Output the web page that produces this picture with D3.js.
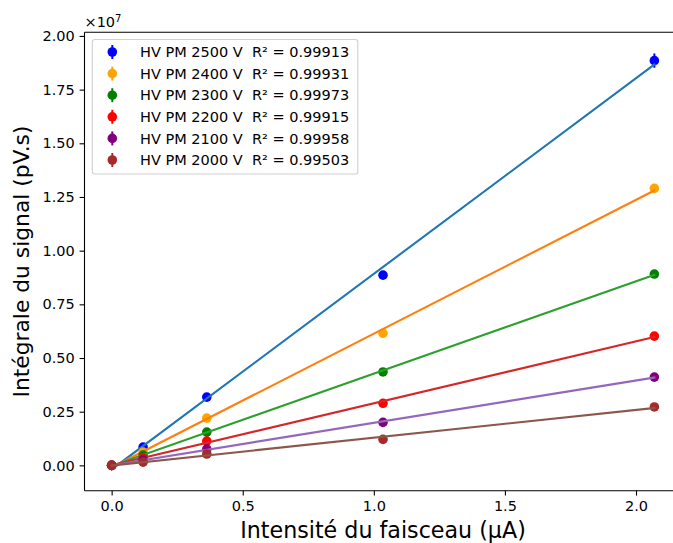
<!DOCTYPE html>
<html>
<head>
<meta charset="utf-8">
<script src="https://cdn.jsdelivr.net/npm/d3@7"></script>
<style>
  html, body { margin: 0; padding: 0; background: #fff; }
  svg { display: block; font-family: "DejaVu Sans", sans-serif; }
</style>
</head>
<body>
<svg id="chart" width="673" height="543"></svg>
<script>
// ---- data (y in units of 1e7 pV.s) ----
const currents = [0, 0.12, 0.363, 1.035, 2.07];
const labels = ["HV PM 2500 V", "HV PM 2400 V", "HV PM 2300 V", "HV PM 2200 V", "HV PM 2100 V", "HV PM 2000 V"];
const r2 = ["0.99913", "0.99931", "0.99973", "0.99915", "0.99958", "0.99503"];
const v2500 = [0, 0.085, 0.318, 0.886, 1.885];
const v2400 = [0, 0.062, 0.220, 0.615, 1.290];
const v2300 = [0, 0.048, 0.155, 0.435, 0.891];
const v2200 = [0, 0.034, 0.113, 0.289, 0.602];
const v2100 = [0, 0.025, 0.076, 0.200, 0.411];
const v2000 = [0, 0.015, 0.053, 0.121, 0.272];
const e2500 = [0, 0.004, 0.008, 0.012, 0.033];
const e2400 = [0, 0.003, 0.006, 0.010, 0.012];
const e2300 = [0, 0.002, 0.005, 0.008, 0.010];
const e2200 = [0, 0.002, 0.004, 0.006, 0.008];
const e2100 = [0, 0.001, 0.003, 0.005, 0.006];
const e2000 = [0, 0.001, 0.002, 0.004, 0.005];
const xTicks = [0, 0.5, 1.0, 1.5, 2.0];
const yTicks = [0, 0.25, 0.5, 0.75, 1.0, 1.25, 1.5, 1.75, 2.0];
const markerColors = ["#0000ff", "#ffa500", "#008000", "#ff0000", "#800080", "#a52a2a"];
const lineColors = ["#1f77b4", "#ff7f0e", "#2ca02c", "#d62728", "#9467bd", "#8c564b"];

const values = [v2500, v2400, v2300, v2200, v2100, v2000];
const errors = [e2500, e2400, e2300, e2200, e2100, e2000];

// ---- layout ----
const svg = d3.select("#chart");
const L = 84.5, R = 681.5, T = 32.3, B = 490.7;
const x = d3.scaleLinear().domain([-0.1035, 2.1735]).range([L, R]);
const y = d3.scaleLinear().domain([-0.118, 2.017]).range([B, T]);

const clipId = "plotclip";
svg.append("defs").append("clipPath").attr("id", clipId)
  .append("rect").attr("x", L).attr("y", T).attr("width", R - L).attr("height", B - T);

// linear least-squares fit
function fit(xs, ys) {
  const n = xs.length;
  const mx = d3.mean(xs), my = d3.mean(ys);
  let sxy = 0, sxx = 0;
  for (let i = 0; i < n; i++) { sxy += (xs[i] - mx) * (ys[i] - my); sxx += (xs[i] - mx) ** 2; }
  const a = sxy / sxx;
  return { a, b: my - a * mx };
}

const plot = svg.append("g").attr("clip-path", `url(#${clipId})`);
const xMin = d3.min(currents), xMax = d3.max(currents);

values.forEach((vals, s) => {
  const g = plot.append("g");
  g.selectAll("line.err").data(vals).enter().append("line")
    .attr("x1", (d, i) => x(currents[i])).attr("x2", (d, i) => x(currents[i]))
    .attr("y1", (d, i) => y(d - errors[s][i])).attr("y2", (d, i) => y(d + errors[s][i]))
    .attr("stroke", markerColors[s]).attr("stroke-width", 2);
  g.selectAll("circle").data(vals).enter().append("circle")
    .attr("cx", (d, i) => x(currents[i])).attr("cy", d => y(d))
    .attr("r", 4.8).attr("fill", markerColors[s]);
  const f = fit(currents, vals);
  g.append("line")
    .attr("x1", x(xMin)).attr("y1", y(f.a * xMin + f.b))
    .attr("x2", x(xMax)).attr("y2", y(f.a * xMax + f.b))
    .attr("stroke", lineColors[s]).attr("stroke-width", 2.1).attr("stroke-linecap", "square");
});

// ---- axes ----
const fs = 14.5;
const xAxis = d3.axisBottom(x).tickValues(xTicks).tickFormat(d3.format(".1f")).tickSize(4.9).tickPadding(4.9);
const yAxis = d3.axisLeft(y).tickValues(yTicks).tickFormat(d3.format(".2f")).tickSize(4.9).tickPadding(4.9);

const gx = svg.append("g").attr("transform", `translate(0,${B})`).call(xAxis);
const gy = svg.append("g").attr("transform", `translate(${L},0)`).call(yAxis);
[gx, gy].forEach(g => {
  g.select(".domain").remove();
  g.selectAll(".tick line").attr("stroke", "#000").attr("stroke-width", 1.1);
  g.selectAll(".tick text").attr("fill", "#000").style("font-size", fs + "px").style("font-family", "DejaVu Sans");
});

// spines
svg.append("line").attr("x1", L).attr("x2", L).attr("y1", T).attr("y2", B).attr("stroke", "#000").attr("stroke-width", 1.1);
svg.append("line").attr("x1", L).attr("x2", R).attr("y1", B).attr("y2", B).attr("stroke", "#000").attr("stroke-width", 1.1);
svg.append("line").attr("x1", L).attr("x2", R).attr("y1", T).attr("y2", T).attr("stroke", "#000").attr("stroke-width", 1.1);
svg.append("line").attr("x1", R).attr("x2", R).attr("y1", T).attr("y2", B).attr("stroke", "#000").attr("stroke-width", 1.1);

// offset text
const off = svg.append("text").attr("x", L).attr("y", 27).style("font-size", fs + "px").attr("fill", "#000");
off.append("tspan").text("×10");
off.append("tspan").attr("dy", -5).style("font-size", "10px").text("7");

// axis labels
svg.append("text").attr("x", (L + R) / 2).attr("y", 538).attr("text-anchor", "middle")
  .style("font-size", "22.2px").attr("fill", "#000").text("Intensité du faisceau (µA)");
svg.append("text").attr("transform", `translate(29,${(T + B) / 2}) rotate(-90)`).attr("text-anchor", "middle")
  .style("font-size", "21.8px").attr("fill", "#000").text("Intégrale du signal (pV.s)");

// ---- legend ----
const lg = svg.append("g");
lg.append("rect").attr("x", 92.3).attr("y", 39.5).attr("width", 265.5).attr("height", 134.5)
  .attr("rx", 2.5).attr("fill", "#fff").attr("fill-opacity", 0.8).attr("stroke", "#d0d0d0").attr("stroke-width", 1.1);
labels.forEach((lab, i) => {
  const cy = 52 + i * 21.6;
  lg.append("line").attr("x1", 112.3).attr("x2", 112.3).attr("y1", cy - 7).attr("y2", cy + 7)
    .attr("stroke", markerColors[i]).attr("stroke-width", 2);
  lg.append("circle").attr("cx", 112.3).attr("cy", cy).attr("r", 4.8).attr("fill", markerColors[i]);
  lg.append("text").attr("x", 140).attr("y", cy + 5.2).style("font-size", fs + "px").attr("fill", "#000")
    .attr("xml:space", "preserve").style("white-space", "pre")
    .text(lab + "  R² = " + r2[i]);
});
</script>
</body>
</html>
